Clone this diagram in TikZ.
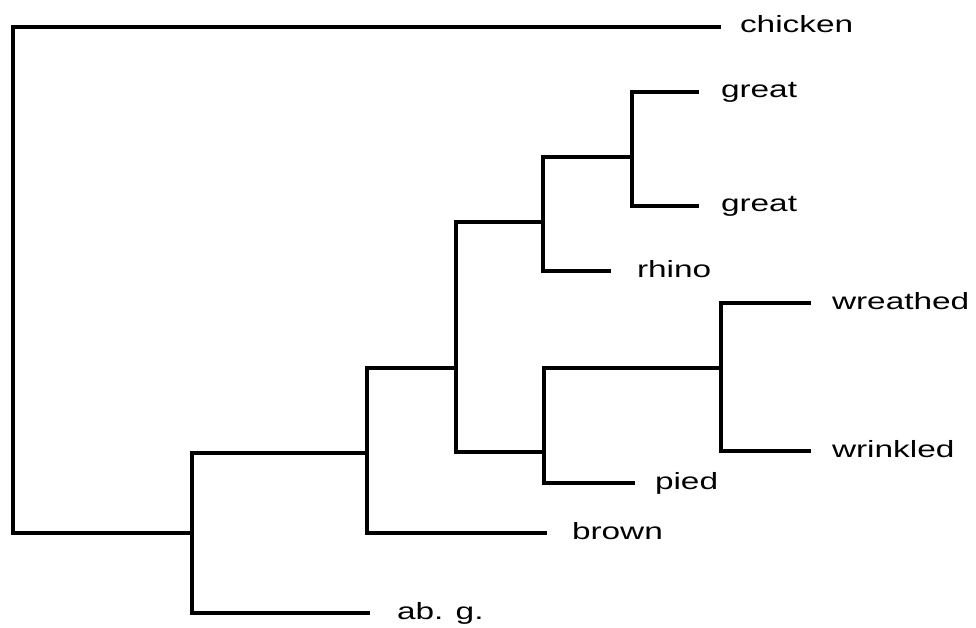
\documentclass[tikz,border=0pt]{standalone}
\usepackage{fontspec}
\setmainfont{Liberation Sans}[FakeStretch=1.42]
\begin{document}
\begin{tikzpicture}[x=1pt,y=-1pt,
  branch/.style={line width=3.1pt,line join=miter,line cap=butt},
  leaf/.style={anchor=base west,inner sep=0pt,outer sep=0pt,font=\fontsize{23.5}{27}\selectfont}]
\useasboundingbox (0,0) rectangle (976,628);
% internal junctions
\coordinate (root) at (13,533);
\coordinate (jA) at (192,533);
\coordinate (jB) at (367,453);
\coordinate (jC) at (456,368);
\coordinate (jD) at (543,222);
\coordinate (jE) at (632,157);
\coordinate (jF) at (544,452);
\coordinate (jG) at (721,368);
% leaf line ends
\coordinate (eChicken) at (721,27);
\coordinate (eGreatA) at (699,92);
\coordinate (eGreatB) at (699,206);
\coordinate (eRhino) at (611,271);
\coordinate (eWreathed) at (811,303);
\coordinate (eWrinkled) at (811,451);
\coordinate (ePied) at (635,483);
\coordinate (eBrown) at (547,533);
\coordinate (eAbg) at (370,613);
% labels
\node[leaf] (chicken) at (740,33) {chicken};
\node[leaf] (greatA) at (721,98) {great};
\node[leaf] (greatB) at (721,212) {great};
\node[leaf] (rhino) at (637,277) {rhino};
\node[leaf] (wreathed) at (832,309) {wreathed};
\node[leaf] (wrinkled) at (832,457) {wrinkled};
\node[leaf] (pied) at (655,489) {pied};
\node[leaf] (brown) at (572,539) {brown};
\node[leaf] (abg) at (397,619) {ab. g.};
% tree
\draw[branch] (eChicken) -| (root) |- (jA);
\draw[branch] (jB) -| (jA) |- (eAbg);
\draw[branch] (jC) -| (jB) |- (eBrown);
\draw[branch] (jD) -| (jC) |- (jF);
\draw[branch] (jE) -| (jD) |- (eRhino);
\draw[branch] (eGreatA) -| (jE) |- (eGreatB);
\draw[branch] (jG) -| (jF) |- (ePied);
\draw[branch] (eWreathed) -| (jG) |- (eWrinkled);
\end{tikzpicture}
\end{document}
